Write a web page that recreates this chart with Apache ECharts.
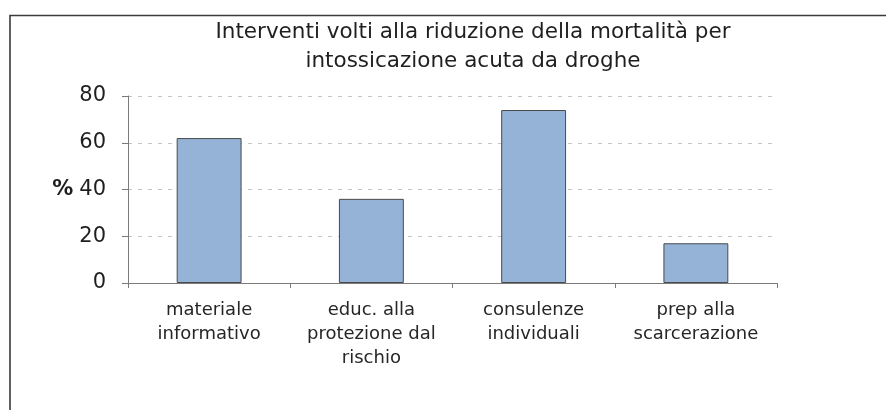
<!DOCTYPE html>
<html>
<head>
<meta charset="utf-8">
<script src="https://cdn.jsdelivr.net/npm/echarts@6/dist/echarts.min.js"></script>
<style>
  html, body { margin: 0; padding: 0; background: #fff; }
  #chart { width: 886px; height: 410px; }
</style>
</head>
<body>
<div id="chart"></div>
<script>
// Interventions aimed at reducing deaths from acute drug intoxication (%)
const titleLines = ['Interventi volti alla riduzione della mortalità per', 'intossicazione acuta da droghe'];
const categories = [
  'materiale\ninformativo',
  'educ. alla\nprotezione dal\nrischio',
  'consulenze\nindividuali',
  'prep alla\nscarcerazione'
];
const values = [62, 36, 74, 17];
const yTicks = { min: 0, max: 80, interval: 20 };
const yName = '%';

const FONT = '"DejaVu Sans", Verdana, sans-serif';
const chart = echarts.init(document.getElementById('chart'), null, { renderer: 'canvas' });

chart.setOption({
  backgroundColor: '#ffffff',
  animation: false,
  grid: { left: 128, right: 109, top: 96, bottom: 127 },
  graphic: [
    {
      type: 'polyline',
      shape: { points: [[10, 410], [10, 15.5], [886, 15.5]] },
      style: { stroke: '#3a3a3a', lineWidth: 1.6, fill: null },
      silent: true
    },
    {
      type: 'text',
      x: 473, y: 32.5,
      style: {
        text: titleLines[0], font: '21.5px ' + FONT, fill: '#1f1f1f',
        textAlign: 'center', textVerticalAlign: 'middle'
      }
    },
    {
      type: 'text',
      x: 473, y: 61.5,
      style: {
        text: titleLines[1], font: '21.5px ' + FONT, fill: '#1f1f1f',
        textAlign: 'center', textVerticalAlign: 'middle'
      }
    }
  ],
  xAxis: {
    type: 'category',
    data: categories,
    boundaryGap: true,
    axisLine: { lineStyle: { color: '#7a7a7a', width: 1 } },
    axisTick: { show: true, length: 5, alignWithLabel: false, lineStyle: { color: '#7a7a7a' } },
    axisLabel: {
      interval: 0, margin: 15, color: '#262626',
      fontFamily: FONT, fontSize: 18, lineHeight: 24, align: 'center'
    },
    splitLine: { show: false }
  },
  yAxis: {
    type: 'value',
    min: yTicks.min, max: yTicks.max, interval: yTicks.interval,
    name: yName,
    nameLocation: 'middle',
    nameRotate: 0,
    nameGap: 52,
    nameTextStyle: { color: '#1f1f1f', fontFamily: FONT, fontSize: 21, fontWeight: 'bold' },
    axisLine: { show: true, lineStyle: { color: '#7a7a7a', width: 1 } },
    axisTick: { show: true, inside: false, length: 6, lineStyle: { color: '#7a7a7a' } },
    axisLabel: { margin: 22, color: '#1f1f1f', fontFamily: FONT, fontSize: 21 },
    splitLine: { show: true, lineStyle: { color: '#c4c4c4', type: [4, 6], width: 1 } }
  },
  series: [{
    type: 'bar',
    data: values,
    barWidth: '40%',
    itemStyle: { color: '#95b3d7', borderColor: '#4a4a4a', borderWidth: 1 }
  }]
});
</script>
</body>
</html>
